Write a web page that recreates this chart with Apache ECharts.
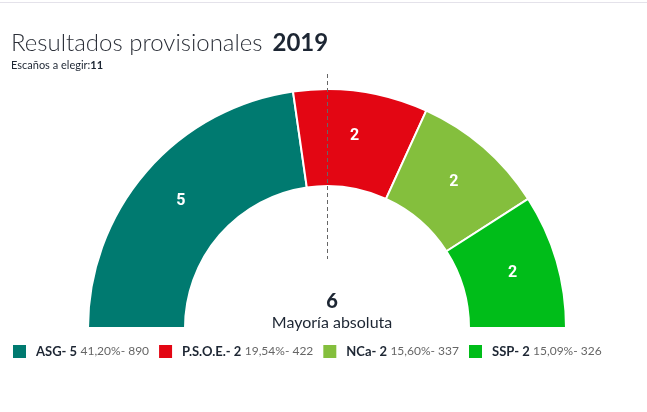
<!DOCTYPE html>
<html>
<head>
<meta charset="utf-8">
<script src="https://cdn.jsdelivr.net/npm/echarts@6/dist/echarts.min.js"></script>
<style>
html, body { margin: 0; padding: 0; background: #fff; }
#chart { width: 647px; height: 412px; border-top: 1px solid #e4e2ea; box-sizing: border-box; margin-top: 2px; }
</style>
</head>
<body>
<div id="chart"></div>
<script>
var parties = ['ASG', 'P.S.O.E.', 'NCa', 'SSP'];
var seats = [5, 2, 2, 2];
var percents = ['41,20%', '19,54%', '15,60%', '15,09%'];
var votes = [890, 422, 337, 326];
var totalSeats = 11;
var majority = 6;
var year = '2019';

var colors = ['#007a70', '#e30613', '#84bf3d', '#00bd19'];

var myChart = echarts.init(document.getElementById('chart'));

var pieData = parties.map(function (p, i) {
    return { name: p, value: seats[i], itemStyle: { color: colors[i] } };
});

option = {
    animation: false,
    title: [{
        left: 6,
        top: 23,
        text: '{a|Resultados provisionales}  {b|' + year + '}',
        textStyle: {
            rich: {
                a: { fontFamily: 'Lato', fontSize: 24, fontWeight: 300, color: '#2b2f38' },
                b: { fontFamily: 'Lato', fontSize: 24, fontWeight: 'bold', color: '#1d2633' }
            }
        }
    }, {
        left: 6,
        top: 52,
        text: '{a|Escaños a elegir:}{b|' + totalSeats + '}',
        textStyle: {
            rich: {
                a: { fontFamily: 'Lato', fontSize: 11, fontWeight: 'normal', color: '#1d2633' },
                b: { fontFamily: 'Lato', fontSize: 11, fontWeight: 'bold', color: '#1d2633' }
            }
        }
    }, {
        left: 327,
        top: 282,
        textAlign: 'center',
        text: '{a|' + majority + '}\n{b|Mayoría absoluta}',
        textStyle: {
            rich: {
                a: { fontFamily: 'Lato', fontSize: 20, fontWeight: 900, color: '#1d2633', lineHeight: 23, align: 'center' },
                b: { fontFamily: 'Lato', fontSize: 16, fontWeight: 'normal', color: '#1d2633', lineHeight: 20, align: 'center' }
            }
        }
    }],
    legend: {
        left: 11,
        top: 340,
        padding: 0,
        itemWidth: 15,
        itemHeight: 15,
        itemGap: 8,
        icon: 'rect',
        selectedMode: false,
        data: parties,
        formatter: function (name) {
            var i = parties.indexOf(name);
            return '{n|' + name + '- ' + seats[i] + '} {p|' + percents[i] + '- ' + votes[i] + '}';
        },
        textStyle: {
            padding: [0, 0, 0, 4],
            rich: {
                n: { fontFamily: 'Lato', fontSize: 13, fontWeight: 'bold', color: '#1d2633' },
                p: { fontFamily: 'Lato', fontSize: 12, color: '#666' }
            }
        }
    },
    series: [{
        type: 'pie',
        center: [327, 325],
        radius: [142, 239],
        startAngle: 180,
        endAngle: 0,
        clockwise: true,
        avoidLabelOverlap: false,
        itemStyle: { borderColor: '#fff', borderWidth: 2 },
        label: {
            show: true,
            position: 'inside',
            formatter: '{c}',
            color: '#fff',
            fontFamily: 'Roboto',
            fontWeight: 'bold',
            fontSize: 16
        },
        labelLine: { show: false },
        emphasis: { disabled: true },
        data: pieData
    }],
    graphic: [{
        type: 'line',
        z: 100,
        shape: { x1: 327.5, y1: 71, x2: 327.5, y2: 256 },
        style: { stroke: '#666', lineWidth: 1, lineDash: [4, 3] }
    }]
};
myChart.setOption(option);
</script>
</body>
</html>
